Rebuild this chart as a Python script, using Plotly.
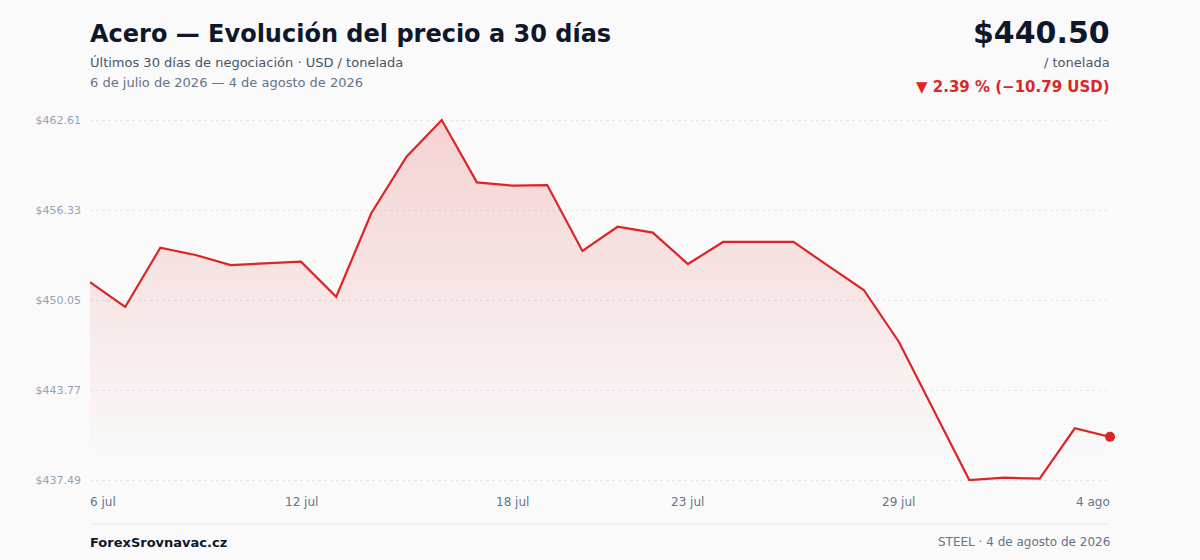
import plotly.graph_objects as go
import pandas as pd

dates = pd.date_range("2026-07-06", "2026-08-04", freq="D").strftime("%Y-%m-%d").tolist()
prices = [451.29, 449.56, 453.70, 453.19, 452.49, 452.58, 452.72, 450.28, 456.12, 460.05,
          462.61, 458.26, 458.03, 458.07, 453.47, 455.16, 454.75, 452.56, 454.10, 454.10,
          454.10, 452.42, 450.75, 447.12, 442.30, 437.49, 437.65, 437.58, 441.10, 440.50]
y_ticks = [437.49, 443.77, 450.05, 456.33, 462.61]
y_tick_labels = ["$437.49", "$443.77", "$450.05", "$456.33", "$462.61"]
x_tick_dates = ["2026-07-06", "2026-07-12", "2026-07-18", "2026-07-23", "2026-07-29", "2026-08-04"]
x_tick_labels = ["6 jul", "12 jul", "18 jul", "23 jul", "29 jul", "4 ago"]

FONT = "DejaVu Sans"
RED = "#dc2626"
BG = "#fafafa"

lo, hi = min(y_ticks), max(y_ticks)
pad = (hi - lo) * 10 / 360

fig = go.Figure()
fig.add_trace(go.Scatter(
    x=dates, y=prices, mode="lines",
    line=dict(color=RED, width=2.2),
    fill="tozeroy",
    fillgradient=dict(type="vertical",
                      colorscale=[[0, "rgba(220,38,38,0.0)"], [1, "rgba(220,38,38,0.19)"]],
                      start=lo + 1.0, stop=hi),
    hoverinfo="skip", showlegend=False,
))
fig.add_trace(go.Scatter(
    x=[dates[-1]], y=[prices[-1]], mode="markers",
    marker=dict(color=RED, size=10),
    cliponaxis=False, showlegend=False, hoverinfo="skip",
))

def py(p):
    return (490 - p) / 380

L = dict(x=0, xref="paper", yref="paper", xanchor="left", yanchor="middle", showarrow=False, xshift=-2)
R = dict(x=1, xref="paper", yref="paper", xanchor="right", yanchor="middle", showarrow=False, xshift=2)

ann = []
ann.append(dict(L, text="<b>Acero — Evolución del precio a 30 días</b>", y=py(34),
                font=dict(family=FONT, size=24, color="#0f172a")))
ann.append(dict(L, text="Últimos 30 días de negociación · USD / tonelada", y=py(62),
                font=dict(family=FONT, size=13, color="#475569")))
ann.append(dict(L, text="6 de julio de 2026 — 4 de agosto de 2026", y=py(83),
                font=dict(family=FONT, size=13, color="#64748b")))
ann.append(dict(R, text="<b>$440.50</b>", y=py(32),
                font=dict(family=FONT, size=30, color="#0f172a")))
ann.append(dict(R, text="/ tonelada", y=py(62),
                font=dict(family=FONT, size=13, color="#475569")))
ann.append(dict(R, text="<b>▼ 2.39 % (−10.79 USD)</b>", y=py(87),
                font=dict(family=FONT, size=15, color=RED)))
for i, (d, t) in enumerate(zip(x_tick_dates, x_tick_labels)):
    anchor = "left" if i == 0 else ("right" if i == len(x_tick_dates) - 1 else "center")
    shift = -2 if anchor == "left" else (2 if anchor == "right" else 0)
    ann.append(dict(text=t, x=d, y=py(502), xref="x", yref="paper", xanchor=anchor, yanchor="middle",
                    xshift=shift, showarrow=False, font=dict(family=FONT, size=12, color="#64748b")))
ann.append(dict(L, text="<b>ForexSrovnavac.cz</b>", y=py(542),
                font=dict(family=FONT, size=13, color="#0f172a")))
ann.append(dict(R, text="STEEL · 4 de agosto de 2026", y=py(542),
                font=dict(family=FONT, size=12, color="#64748b")))

fig.update_layout(
    width=1200, height=560,
    margin=dict(l=90, r=90, t=110, b=70),
    paper_bgcolor=BG, plot_bgcolor=BG,
    font=dict(family=FONT),
    annotations=ann,
    shapes=[dict(type="line", xref="paper", yref="paper", x0=0, x1=1, y0=py(524), y1=py(524),
                 line=dict(color="#e5e7eb", width=1))],
    xaxis=dict(range=[dates[0], dates[-1]], showgrid=False, showticklabels=False, zeroline=False,
               showline=False, ticks=""),
    yaxis=dict(range=[lo - pad, hi + pad], tickvals=y_ticks, ticktext=y_tick_labels,
               showgrid=True, gridcolor="#e5e7eb", griddash="dot", gridwidth=1,
               zeroline=False, showline=False, ticks="", ticklabelstandoff=8,
               tickfont=dict(family=FONT, size=11, color="#94a3b8")),
)

fig.write_html("out.html", config={"displayModeBar": False},
               post_script="document.body.style.margin='0';document.body.style.background='#fafafa';"
                           "document.body.style.overflow='hidden';")
